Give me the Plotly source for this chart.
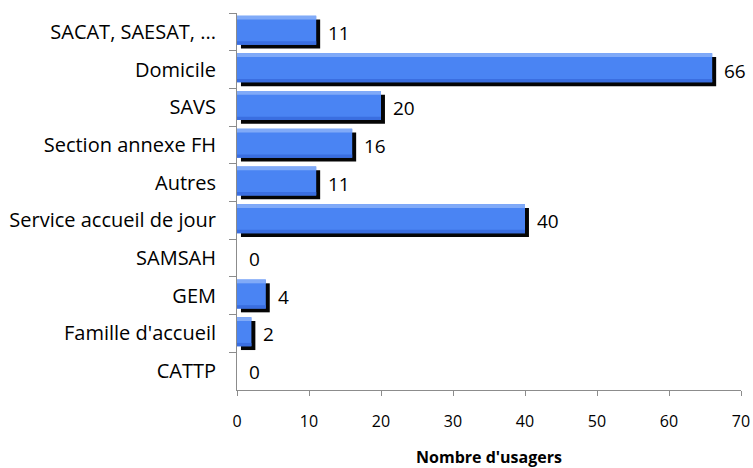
import plotly.graph_objects as go

categories = ["SACAT, SAESAT, ...", "Domicile", "SAVS", "Section annexe FH", "Autres",
              "Service accueil de jour", "SAMSAH", "GEM", "Famille d'accueil", "CATTP"]
values = [11, 66, 20, 16, 11, 40, 0, 4, 2, 0]
x_ticks = [0, 10, 20, 30, 40, 50, 60, 70]
x_title = "Nombre d'usagers"

FONT = "Open Sans"
BAR_OFF = -0.43
BAR_W = 0.77

fig = go.Figure()
# shadow
fig.add_trace(go.Bar(y=categories, x=values, base=0.55, orientation="h",
                     offset=BAR_OFF + 0.1, width=BAR_W,
                     marker=dict(color="#050505", line=dict(width=0)),
                     hoverinfo="skip", showlegend=False))
# main bar
fig.add_trace(go.Bar(y=categories, x=values, orientation="h",
                     offset=BAR_OFF, width=BAR_W,
                     marker=dict(color="#4A84F3", line=dict(width=0)),
                     showlegend=False))
# bottom shade
fig.add_trace(go.Bar(y=categories, x=values, orientation="h",
                     offset=BAR_OFF + BAR_W - 0.09, width=0.09,
                     marker=dict(color="#3A6EE0", line=dict(width=0)),
                     hoverinfo="skip", showlegend=False))
# top highlight
fig.add_trace(go.Bar(y=categories, x=values, orientation="h",
                     offset=BAR_OFF, width=0.1,
                     marker=dict(color="#80AAF8", line=dict(width=0)),
                     hoverinfo="skip", showlegend=False))

for c, v in zip(categories, values):
    fig.add_annotation(x=v, y=c, text=str(v), showarrow=False, xanchor="left",
                       xshift=10, yshift=-1, font=dict(family=FONT, size=19, color="#000"))

fig.update_layout(
    width=753, height=468,
    margin=dict(l=237, r=12, t=13, b=78, autoexpand=False),
    barmode="overlay",
    plot_bgcolor="white", paper_bgcolor="white",
    font=dict(family=FONT, color="#000"),
    xaxis=dict(range=[0, 70], tickvals=x_ticks, showgrid=False, zeroline=False,
               showline=True, linecolor="#8c8c8c", linewidth=1,
               ticks="outside", ticklen=5, tickcolor="#8c8c8c",
               tickfont=dict(family=FONT, size=16), ticklabelstandoff=12,
               automargin=False,
               title=dict(text="<b>" + x_title + "</b>", font=dict(family=FONT, size=16), standoff=22)),
    yaxis=dict(categoryorder="array", categoryarray=categories, autorange="reversed",
               showgrid=False, zeroline=False, showline=True, linecolor="#8c8c8c", linewidth=1,
               ticks="outside", ticklen=7, tickcolor="#8c8c8c", tickson="boundaries",
               tickfont=dict(family=FONT, size=20), ticklabelstandoff=16, automargin=False),
)

fig.write_html("out.html", config={"displayModeBar": False},
               post_script="document.body.style.margin='0';")
